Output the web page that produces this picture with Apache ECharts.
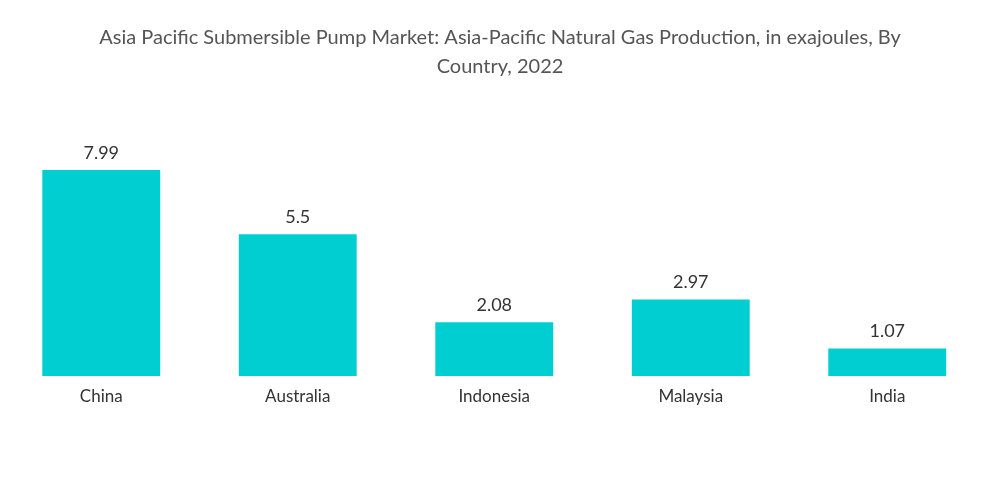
<!DOCTYPE html>
<html><head><meta charset="utf-8">
<script src="https://cdn.jsdelivr.net/npm/echarts@6/dist/echarts.min.js"></script>
<style>html,body{margin:0;padding:0;background:#fff}#c{width:1000px;height:504px}</style>
</head><body><div id="c"></div>
<script>
const categories = ["China","Australia","Indonesia","Malaysia","India"];
const values = [7.99,5.5,2.08,2.97,1.07];
const labels = ["7.99","5.5","2.08","2.97","1.07"];
const chart = echarts.init(document.getElementById('c'));
chart.setOption({
  title:{text:"Asia Pacific Submersible Pump Market: Asia-Pacific Natural Gas Production, in exajoules, By\nCountry, 2022",
    left:'center',top:18,textStyle:{fontFamily:'Lato',fontSize:20,fontWeight:'normal',color:'#555',lineHeight:29}},
  grid:{left:3,right:14.5,top:100,bottom:128,containLabel:false},
  xAxis:{type:'category',data:categories,axisLine:{show:false},axisTick:{show:false},
    axisLabel:{fontFamily:'Lato',fontSize:17,color:'#333',margin:12}},
  yAxis:{type:'value',min:0,max:10.7,show:false,splitLine:{show:false}},
  series:[{type:'bar',data:values,barWidth:'60%',itemStyle:{color:'#00ced1'},
    label:{show:true,position:'top',distance:8,fontFamily:'Lato',fontSize:18,color:'#333',
      formatter:p=>labels[p.dataIndex]}}],
  animation:false
});
</script></body></html>
